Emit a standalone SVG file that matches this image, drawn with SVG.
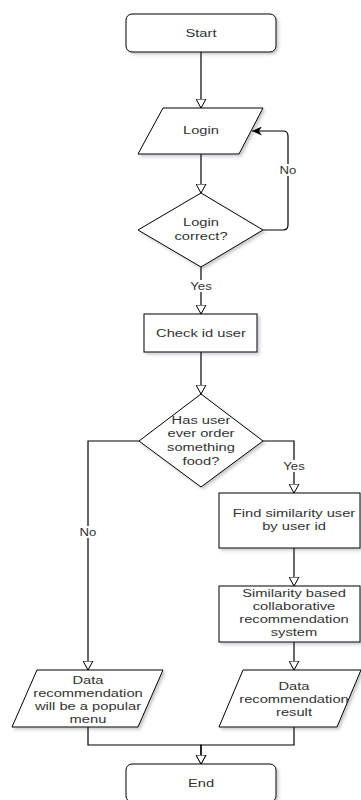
<svg xmlns="http://www.w3.org/2000/svg" width="361" height="800" viewBox="0 0 361 800">
<style>
.s{fill:#fff;stroke:#000;stroke-width:1;filter:url(#sh)}
.c{fill:none;stroke:#000;stroke-width:1.2}
.t{font-family:"Liberation Sans",Arial,sans-serif;font-size:11.5px;fill:#333;text-anchor:middle}
.l{font-family:"Liberation Sans",Arial,sans-serif;font-size:10.3px;fill:#333;text-anchor:middle}
.lb{fill:#fff}
</style>
<defs>
<filter id="sh" x="-10%" y="-10%" width="130%" height="130%">
<feDropShadow dx="2" dy="2" stdDeviation="1.5" flood-color="#445" flood-opacity="0.3"/>
</filter>
<marker id="ah" markerUnits="userSpaceOnUse" markerWidth="10" markerHeight="11" viewBox="0 0 10 11" refX="9.5" refY="5.5" orient="auto">
<path d="M0.5,0.5 L9.5,5.5 L0.5,10.5 Z" fill="#fff" stroke="#000" stroke-width="1"/>
</marker>
<marker id="af" markerUnits="userSpaceOnUse" markerWidth="10" markerHeight="9" viewBox="0 0 10 9" refX="10" refY="4.5" orient="auto">
<path d="M0,0 L10,4.5 L0,9 L3,4.5 Z" fill="#000"/>
</marker>
</defs>
<rect width="361" height="800" fill="#fff"/>

<g id="connectors">
<path class="c" d="M201,52 V108" marker-end="url(#ah)"/>
<path class="c" d="M201,154 V193" marker-end="url(#ah)"/>
<path class="c" d="M263,230 H283 Q288,230 288,225 V136 Q288,131 283,131 H252" marker-end="url(#af)"/>
<path class="c" d="M201,267 V314" marker-end="url(#ah)"/>
<path class="c" d="M201,352 V394" marker-end="url(#ah)"/>
<path class="c" d="M139,441 H88 V670" marker-end="url(#ah)"/>
<path class="c" d="M263,441 H294 V493" marker-end="url(#ah)"/>
<path class="c" d="M294,548 V586" marker-end="url(#ah)"/>
<path class="c" d="M294,642 V670" marker-end="url(#ah)"/>
<path class="c" d="M88,727 V745 H201 V764" marker-end="url(#ah)"/>
<path class="c" d="M294,727 V745 H201 V764" marker-end="url(#ah)"/>
<g id="labels">
<rect class="lb" x="279" y="164" width="18" height="12"/>
<g transform="translate(288 0) scale(1.28 1)"><text class="l" x="0" y="174">No</text></g>
<rect class="lb" x="189" y="280" width="24" height="12"/>
<g transform="translate(201 0) scale(1.28 1)"><text class="l" x="0" y="290">Yes</text></g>
<rect class="lb" x="79" y="526" width="18" height="12"/>
<g transform="translate(88 0) scale(1.28 1)"><text class="l" x="0" y="536">No</text></g>
<rect class="lb" x="282" y="460" width="24" height="12"/>
<g transform="translate(294 0) scale(1.28 1)"><text class="l" x="0" y="470">Yes</text></g>
</g>
</g>

<g id="start">
<rect class="s" x="126" y="14" width="150" height="38" rx="6"/>
<g transform="translate(201 0) scale(1.28 1)"><text class="t" x="0" y="37">Start</text></g>
</g>

<g id="login">
<polygon class="s" points="163,108 263,108 239,154 138,154"/>
<g transform="translate(201 0) scale(1.28 1)"><text class="t" x="0" y="134">Login</text></g>
</g>

<g id="login-correct">
<polygon class="s" points="201,193 263,230 201,267 138,230"/>
<g transform="translate(201 0) scale(1.28 1)"><text class="t" x="0" y="226">Login</text><text class="t" x="0" y="240">correct?</text></g>
</g>

<g id="check-id">
<rect class="s" x="144" y="314" width="113" height="38"/>
<g transform="translate(201 0) scale(1.28 1)"><text class="t" x="0" y="337">Check id user</text></g>
</g>

<g id="has-order">
<polygon class="s" points="201,394 263,441 201,487 139,441"/>
<g transform="translate(201 0) scale(1.28 1)"><text class="t" x="0" y="424">Has user</text><text class="t" x="0" y="437">ever order</text><text class="t" x="0" y="451">something</text><text class="t" x="0" y="465">food?</text></g>
</g>

<g id="find-similarity">
<rect class="s" x="219" y="493" width="141" height="55"/>
<g transform="translate(294 0) scale(1.28 1)"><text class="t" x="0" y="517">Find similarity user</text><text class="t" x="0" y="530">by user id</text></g>
</g>

<g id="similarity-system">
<rect class="s" x="219" y="586" width="141" height="56"/>
<g transform="translate(294 0) scale(1.28 1)"><text class="t" x="0" y="597">Similarity based</text><text class="t" x="0" y="610">collaborative</text><text class="t" x="0" y="623">recommendation</text><text class="t" x="0" y="636">system</text></g>
</g>

<g id="data-popular">
<polygon class="s" points="37,670 163,670 138,727 12,727"/>
<g transform="translate(88 0) scale(1.28 1)"><text class="t" x="0" y="684">Data</text><text class="t" x="0" y="697">recommendation</text><text class="t" x="0" y="710">will be a popular</text><text class="t" x="0" y="723">menu</text></g>
</g>

<g id="data-result">
<polygon class="s" points="243,670 361,670 337,727 219,727"/>
<g transform="translate(294 0) scale(1.28 1)"><text class="t" x="0" y="690">Data</text><text class="t" x="0" y="703">recommendation</text><text class="t" x="0" y="716">result</text></g>
</g>

<g id="end">
<rect class="s" x="126" y="764" width="150" height="38" rx="6"/>
<g transform="translate(201 0) scale(1.28 1)"><text class="t" x="0" y="787">End</text></g>
</g>
</svg>
